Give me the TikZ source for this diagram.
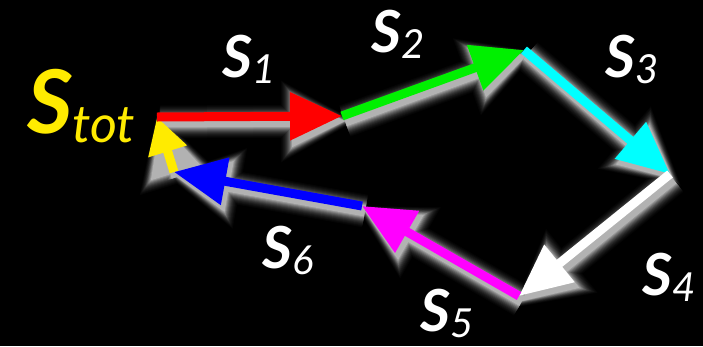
\documentclass[tikz,border=0pt]{standalone}
\usepackage{fontspec}
\setmainfont{Lato}
\usetikzlibrary{arrows.meta}

\definecolor{vyellow}{RGB}{255,235,0}
\definecolor{vgreen}{RGB}{0,240,0}
\definecolor{vcyan}{RGB}{0,255,255}
\definecolor{vmagenta}{RGB}{255,0,255}

\newcommand\slabel[1]{{\fontsize{58}{58}\selectfont\bfseries\itshape S}\raisebox{-6pt}{\fontsize{40}{40}\selectfont\itshape #1}}

\begin{document}
\begin{tikzpicture}[
			x=1pt,y=-1pt,
			vec/.style={
					line width=9pt,
					-{Triangle[length=52pt,width=46pt]}
				},
			lab/.style={
					text=white,
					anchor=base west,
					inner sep=0pt
				}
		]

		\fill[black] (0,0) rectangle (703,346);
		\useasboundingbox (0,0) rectangle (703,346);

		\coordinate (p0) at (157,117);
		\coordinate (p1) at (342,116);
		\coordinate (p2) at (524,50);
		\coordinate (p3) at (670,174);
		\coordinate (p4) at (519,296);
		\coordinate (p5) at (362,206);
		\coordinate (p6) at (174,172);

		% soft glow below the vectors, outer rings first
		\foreach \k/\g in {12/2,11/4,10/7,9/10,8/14,7/19,6/25,5/32,4/40,3/49,2/59,1/70}{
				\pgfmathsetmacro\lw{9+2*\k}
				\pgfmathsetmacro\tl{52+2*\k}
				\pgfmathsetmacro\tw{46+2.5*\k}
				\pgfmathsetmacro\sh{-\k}
				\foreach \a/\b in {p6/p0,p0/p1,p1/p2,p2/p3,p3/p4,p4/p5,p5/p6}
				\draw[white!\g!black, line width=\lw pt, shorten >=\sh pt,
					-{Triangle[length=\tl pt,width=\tw pt]}]
				([shift={(3,5)}]\a) -- ([shift={(3,5)}]\b);
			}

		\draw[vec,vyellow,-{Triangle[length=36pt,width=38pt]}] (p6) -- (p0);
		\draw[vec,red] (p0) -- (p1);
		\draw[vec,vgreen] (p1) -- (p2);
		\draw[vec,vcyan] (p2) -- (p3);
		\draw[vec,white] (p3) -- (p4);
		\draw[vec,vmagenta] (p4) -- (p5);
		\draw[vec,blue] (p5) -- (p6);

		\node[lab] (s1) at (222,77) {\slabel{1}};
		\node[lab] (s2) at (371,52) {\slabel{2}};
		\node[lab] (s3) at (605,77) {\slabel{3}};
		\node[lab] (s4) at (642,295) {\slabel{4}};
		\node[lab] (s5) at (420,331) {\slabel{5}};
		\node[lab] (s6) at (262,268) {\slabel{6}};
		\node[lab,text=vyellow] (stot) at (27,133)
		{{\fontsize{88}{88}\selectfont\bfseries\itshape S}\raisebox{-9pt}{\fontsize{52}{52}\selectfont\itshape tot}};

	\end{tikzpicture}
\end{document}
